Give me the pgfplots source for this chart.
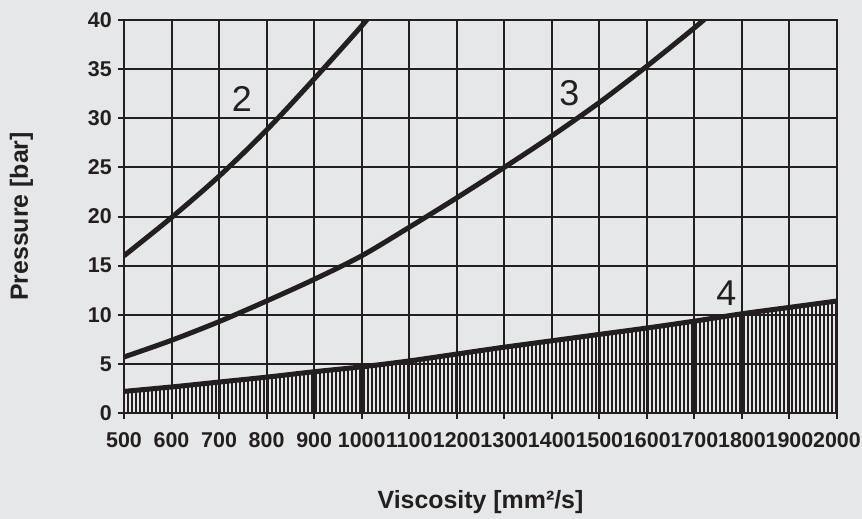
\documentclass[border=0pt]{standalone}
\usepackage{fontspec}
\setmainfont{Liberation Sans}
\usepackage{pgfplots}
\pgfplotsset{compat=1.18}
\usetikzlibrary{patterns.meta}
\definecolor{bgcol}{RGB}{230,231,232}
\definecolor{ink}{RGB}{35,31,32}
\begin{document}
\begin{tikzpicture}
\fill[bgcol,use as bounding box] (-124bp,-106bp) rectangle (738bp,413bp);
\begin{axis}[
  at={(0,0)}, anchor=south west,
  scale only axis, width=713bp, height=393bp,
  xmin=500, xmax=2000, ymin=0, ymax=40,
  xtick distance=100, ytick distance=5,
  xtick pos=bottom, ytick pos=left,
  tick align=outside, major tick length=6bp,
  every tick/.style={ink, line width=2bp},
  grid=major,
  major grid style={ink, line width=2bp},
  axis line style={ink, line width=2bp},
  /pgf/number format/assume math mode=true,
  /pgf/number format/set thousands separator={},
  ticklabel style={font=\bfseries\fontsize{21.5}{24}\selectfont, text=ink},
  xticklabel style={inner sep=0pt, yshift=-13bp},
  yticklabel style={inner sep=0pt, xshift=-6bp},
  xlabel={Viscosity [mm²/s]},
  ylabel={Pressure [bar]},
  label style={font=\bfseries\fontsize{25}{28}\selectfont, text=ink},
  xlabel style={at={(axis description cs:0.5,0)}, anchor=base, yshift=-95bp},
  ylabel style={at={(axis description cs:0,0.5)}, anchor=base, yshift=96bp},
  clip=true,
]
\addplot[draw=none, pattern={Lines[angle=90, distance=4bp, line width=1.3bp]}, pattern color=ink] coordinates {
(500,2.2) (600,2.65) (700,3.15) (800,3.65) (900,4.2) (1000,4.7) (1100,5.3) (1200,6.0) (1300,6.7) (1400,7.35) (1500,8.0) (1600,8.65) (1700,9.35) (1800,10.1) (1900,10.75) (2000,11.4)
} \closedcycle;
\addplot[ink, line width=5bp, smooth] coordinates {
(500,16.0) (600,19.9) (700,24.1) (800,28.8) (900,34.0) (1000,39.4) (1050,42.3)
};
\addplot[ink, line width=5bp, smooth] coordinates {
(500,5.7) (600,7.4) (700,9.3) (800,11.4) (900,13.6) (1000,16.0) (1100,18.9) (1200,21.9) (1300,25.0) (1400,28.2) (1500,31.6) (1600,35.3) (1700,39.2) (1750,41.3)
};
\addplot[ink, line width=5bp, smooth] coordinates {
(500,2.2) (600,2.65) (700,3.15) (800,3.65) (900,4.2) (1000,4.7) (1100,5.3) (1200,6.0) (1300,6.7) (1400,7.35) (1500,8.0) (1600,8.65) (1700,9.35) (1800,10.1) (1900,10.75) (2000,11.4)
};
\node[font=\fontsize{36}{40}\selectfont, text=ink] at (axis cs:748,32.0) {2};
\node[font=\fontsize{36}{40}\selectfont, text=ink] at (axis cs:1437,32.6) {3};
\node[font=\fontsize{36}{40}\selectfont, text=ink] at (axis cs:1767,12.2) {4};
\end{axis}
\end{tikzpicture}
\end{document}
